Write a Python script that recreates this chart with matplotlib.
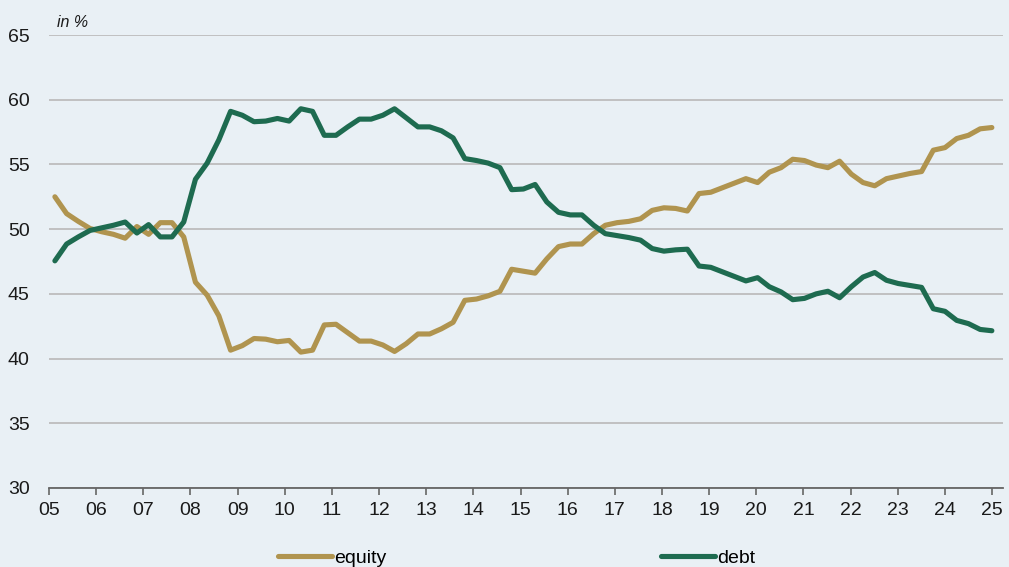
import numpy as np
import matplotlib
matplotlib.use("Agg")
import matplotlib.pyplot as plt

plt.rcParams['font.family'] = ['Liberation Sans', 'DejaVu Sans']

# quarterly shares of total funding, 2005 - 2025
equity = [52.5, 51.2, 50.6, 50.05, 49.8, 49.6, 49.3, 50.2, 49.6, 50.5,
          50.5, 49.4, 45.9, 44.9, 43.3, 40.65, 41.0, 41.55, 41.5, 41.3,
          41.4, 40.5, 40.65, 42.6, 42.65, 42.0, 41.35, 41.35, 41.05, 40.55,
          41.15, 41.9, 41.9, 42.3, 42.8, 44.5, 44.6, 44.85, 45.2, 46.9,
          46.75, 46.6, 47.7, 48.65, 48.85, 48.85, 49.65, 50.3, 50.5, 50.6,
          50.8, 51.45, 51.65, 51.6, 51.4, 52.75, 52.85, 53.2, 53.55, 53.9,
          53.6, 54.4, 54.75, 55.4, 55.3, 54.95, 54.75, 55.25, 54.25, 53.6,
          53.35, 53.9, 54.1, 54.3, 54.45, 56.1, 56.3, 57.0, 57.25, 57.75,
          57.85]
debt = [47.55, 48.85, 49.4, 49.9, 50.1, 50.3, 50.55, 49.7, 50.35, 49.4,
        49.4, 50.55, 53.85, 55.1, 56.9, 59.1, 58.8, 58.3, 58.35, 58.55,
        58.35, 59.3, 59.1, 57.25, 57.25, 57.9, 58.5, 58.5, 58.8, 59.3,
        58.6, 57.9, 57.9, 57.6, 57.05, 55.45, 55.3, 55.1, 54.75, 53.05,
        53.1, 53.45, 52.1, 51.3, 51.1, 51.1, 50.3, 49.65, 49.5, 49.35,
        49.15, 48.5, 48.3, 48.4, 48.45, 47.15, 47.05, 46.7, 46.35, 46.0,
        46.25, 45.55, 45.15, 44.55, 44.65, 45.0, 45.2, 44.7, 45.55, 46.3,
        46.65, 46.05, 45.8, 45.65, 45.5, 43.85, 43.65, 42.95, 42.7, 42.25,
        42.15]
years = list(range(2005, 2026))
year_labels = ['%02d' % (y % 100) for y in years]
yticks = [30, 35, 40, 45, 50, 55, 60, 65]

t = 2005.125 + 0.2484 * np.arange(len(equity))

bg = '#e9f0f5'
c_eq = '#b0944f'
c_debt = '#1e6b50'

fig = plt.figure(figsize=(10.09, 5.67), dpi=100, facecolor=bg)
ax = fig.add_axes([49 / 1009, 79 / 567, 954 / 1009, 453 / 567])
ax.set_facecolor(bg)

ax.plot(t, equity, color=c_eq, lw=3.7, label='equity', solid_joinstyle='round', solid_capstyle='round')
ax.plot(t, debt, color=c_debt, lw=3.7, label='debt', solid_joinstyle='round', solid_capstyle='round')

ax.set_xlim(2005, 2005 + 954 / 47.15)
ax.set_ylim(30, 65)
ax.set_yticks(yticks)
ax.set_xticks(years)
ax.set_xticklabels(year_labels)
ax.grid(axis='y', color='#bdbdbd', lw=1.3)
ax.set_axisbelow(True)
for s in ['top', 'right', 'left']:
    ax.spines[s].set_visible(False)
ax.spines['bottom'].set_color('#666666')
ax.spines['bottom'].set_linewidth(1.3)
ax.spines['bottom'].set_zorder(1)
ax.tick_params(axis='y', length=0, pad=14, labelsize=14, labelcolor='#1a1a1a')
ax.tick_params(axis='x', length=5, width=1.2, color='#666666', pad=5, labelsize=14, labelcolor='#1a1a1a')

ax.text(8 / 954, 1.012, 'in %', transform=ax.transAxes, style='italic',
        fontsize=11.5, color='#1a1a1a', ha='left', va='bottom')

fig.legend(loc='center', bbox_to_anchor=(0.512, 1 - 558 / 567), ncol=2, frameon=False,
           fontsize=14, handlelength=2.75, handletextpad=0.1, columnspacing=14.15,
           borderaxespad=0)

fig.savefig('out.png', dpi=100, facecolor=bg)
